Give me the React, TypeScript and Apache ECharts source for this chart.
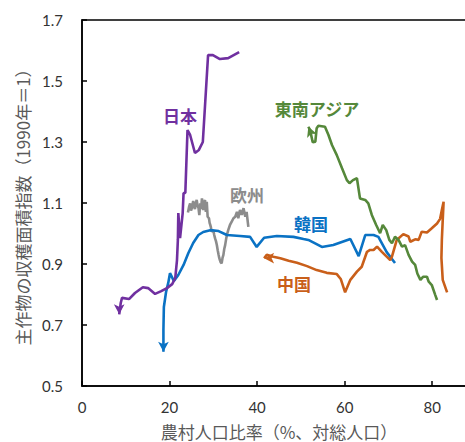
import React, { useEffect, useRef } from "react";
import * as echarts from "echarts";

const xTicks = [0, 20, 40, 60, 80];
const yTicks = [0.5, 0.7, 0.9, 1.1, 1.3, 1.5, 1.7];

const japan: number[][] = [
  [8.5, 0.735], [8.85, 0.772], [9.14, 0.789], [10.74, 0.785], [12.1, 0.805], [13.9, 0.824],
  [15.1, 0.821], [16.7, 0.802], [18.1, 0.811], [19.4, 0.821], [20.6, 0.834], [21.3, 0.854],
  [21.7, 0.913], [21.9, 0.979], [22.0, 1.067], [22.4, 0.985], [23.0, 1.067], [23.2, 1.133],
  [23.6, 1.133], [24.1, 1.339], [24.7, 1.323], [25.8, 1.264], [26.7, 1.274], [27.6, 1.3],
  [28.8, 1.585], [29.9, 1.585], [31.5, 1.572], [33.4, 1.575], [35.9, 1.595],
];

const europe: number[][] = [
  [24.2, 1.069], [24.5, 1.09], [24.7, 1.099], [24.9, 1.075], [25.1, 1.083], [25.4, 1.107],
  [25.6, 1.09], [25.8, 1.08], [26.0, 1.1], [26.2, 1.11], [26.4, 1.09], [26.6, 1.085],
  [26.8, 1.06], [27.0, 1.099], [27.2, 1.08], [27.4, 1.115], [27.55, 1.09], [27.7, 1.077],
  [27.9, 1.1], [28.1, 1.11], [28.2, 1.085], [28.3, 1.071], [28.5, 1.104], [28.7, 1.055],
  [29.0, 1.05], [29.15, 1.035], [29.3, 1.028], [29.45, 1.02], [29.6, 1.006], [30.0, 1.011],
  [30.2, 0.995], [30.4, 0.984], [30.6, 0.975], [30.8, 0.962], [31.0, 0.945], [31.2, 0.93],
  [31.35, 0.92], [31.5, 0.913], [31.7, 0.905], [31.9, 0.902], [32.1, 0.92], [32.3, 0.93],
  [32.5, 0.95], [32.7, 0.962], [32.9, 0.98], [33.1, 0.995], [33.4, 1.011], [33.8, 1.028],
  [34.2, 1.039], [34.6, 1.05], [35.0, 1.055], [35.4, 1.071], [35.7, 1.05], [36.1, 1.077],
  [36.5, 1.061], [36.9, 1.083], [37.3, 1.055], [37.6, 1.071], [38.0, 1.022],
];

const korea: number[][] = [
  [18.6, 0.612], [18.6, 0.684], [18.7, 0.759], [19.2, 0.808], [19.7, 0.838], [20.1, 0.87],
  [21.0, 0.844], [22.0, 0.864], [23.2, 0.897], [24.3, 0.936], [25.4, 0.969], [26.6, 0.995],
  [27.7, 1.005], [29.3, 1.011], [31.2, 1.008], [33.1, 0.995], [36.1, 0.992], [38.4, 0.989],
  [39.9, 0.956], [41.6, 0.986], [44.5, 0.992], [48.3, 0.989], [50.6, 0.982], [51.7, 0.979],
  [54.8, 0.956], [57.4, 0.962], [61.3, 0.982], [63.2, 0.926], [64.7, 0.995], [66.6, 0.995],
  [67.7, 0.989], [69.6, 0.939], [71.5, 0.903],
];

const china: number[][] = [
  [41.6, 0.919], [42.2, 0.93], [43.7, 0.924], [45.3, 0.919], [47.2, 0.911], [49.1, 0.904],
  [51.4, 0.893], [53.6, 0.88], [55.9, 0.871], [58.2, 0.867], [59.1, 0.851], [60.1, 0.807],
  [61.3, 0.848], [62.8, 0.875], [63.9, 0.891], [65.1, 0.94], [65.8, 0.946], [66.6, 0.946],
  [67.4, 0.957], [68.5, 0.94], [69.6, 0.924], [70.4, 0.913], [70.8, 0.924], [71.9, 0.979],
  [73.4, 0.998], [74.6, 0.99], [75.0, 0.973], [76.1, 0.981], [76.9, 0.979], [77.6, 1.006],
  [78.8, 1.003], [79.9, 1.017], [81.1, 1.033], [81.8, 1.048], [82.2, 1.077], [82.6, 1.104],
  [82.4, 1.044], [82.2, 0.979], [82.1, 0.92], [82.4, 0.848], [83.4, 0.807],
];

const seAsia: number[][] = [
  [51.7, 1.35], [52.1, 1.339], [52.7, 1.299], [53.3, 1.301], [53.6, 1.345], [54.0, 1.353],
  [55.5, 1.35], [56.3, 1.323], [57.1, 1.29], [58.2, 1.257], [59.4, 1.214], [60.5, 1.175],
  [61.1, 1.165], [61.9, 1.175], [62.8, 1.181], [63.5, 1.115], [64.7, 1.11], [65.4, 1.099],
  [66.2, 1.061], [67.2, 1.028], [68.1, 1.001], [68.7, 1.028], [69.5, 1.011], [70.2, 0.979],
  [70.8, 0.968], [71.5, 0.989], [72.3, 0.979], [73.1, 0.957], [73.8, 0.962], [74.6, 0.93],
  [75.4, 0.908], [76.1, 0.897], [76.6, 0.869], [77.3, 0.848], [77.9, 0.858], [78.8, 0.858],
  [79.2, 0.842], [79.9, 0.831], [80.7, 0.798], [81.1, 0.782],
];

const COLORS = {
  japan: "#7030A0",
  europe: "#8C8C8C",
  korea: "#0A72C4",
  china: "#C95F1A",
  seAsia: "#55883A",
};

function withArrow(points: number[][], rotate: number) {
  return points.map((p, i) =>
    i === 0
      ? { value: p, symbol: "arrow", symbolSize: [8, 10], symbolRotate: rotate }
      : { value: p }
  );
}

function lineSeries(name: string, points: number[][], color: string, rotate: number | null) {
  return {
    name,
    type: "line",
    data: rotate === null ? points : withArrow(points, rotate),
    symbol: "none",
    showSymbol: true,
    lineStyle: { color, width: 2.6 },
    itemStyle: { color },
    z: 3,
  };
}

const labelFont = "'Noto Sans CJK JP', 'Noto Sans', sans-serif";

export default function App() {
  const ref = useRef<HTMLDivElement>(null);
  useEffect(() => {
    if (!ref.current) return;
    const chart = echarts.init(ref.current, undefined, { renderer: "svg" });
    const lbl = (text: string, x: number, y: number, color: string) => ({
      type: "text",
      x,
      y,
      style: {
        text,
        fill: color,
        font: `bold 17px ${labelFont}`,
        textAlign: "center",
        textVerticalAlign: "middle",
      },
      z: 10,
    });
    chart.setOption({
      animation: false,
      backgroundColor: "#ffffff",
      grid: {
        left: 82,
        top: 20,
        width: 394,
        height: 366,
        show: true,
        borderColor: "#000",
        borderWidth: 1.5,
        containLabel: false,
        outerBoundsMode: "none",
      },
      xAxis: {
        type: "value",
        min: 0,
        max: 90,
        name: "農村人口比率（%、対総人口）",
        nameLocation: "middle",
        nameGap: 35,
        nameTextStyle: { fontFamily: labelFont, fontSize: 17, color: "#595959", lineHeight: 20 },
        axisLine: { show: true, lineStyle: { color: "#000", width: 1.5 } },
        axisTick: { show: true, inside: true, length: 5, lineStyle: { color: "#000", width: 1.5 }, customValues: xTicks },
        axisLabel: {
          customValues: xTicks,
          margin: 13,
          fontFamily: "Lato, 'Noto Sans', sans-serif",
          fontSize: 15,
          color: "#333",
        },
        splitLine: { show: false },
      },
      yAxis: {
        type: "value",
        min: 0.5,
        max: 1.7,
        name: "主作物の収穫面積指数（1990年＝1）",
        nameLocation: "middle",
        nameGap: 50,
        nameRotate: 90,
        nameTextStyle: { fontFamily: labelFont, fontSize: 17, color: "#595959" },
        axisLine: { show: true, lineStyle: { color: "#000", width: 1.5 } },
        axisTick: { show: true, inside: true, length: 5, lineStyle: { color: "#000", width: 1.5 }, customValues: yTicks },
        axisLabel: {
          customValues: yTicks,
          margin: 19,
          formatter: (v: number) => v.toFixed(1),
          fontFamily: "Lato, 'Noto Sans', sans-serif",
          fontSize: 15,
          color: "#333",
        },
        splitLine: { show: false },
      },
      series: [
        lineSeries("欧州", europe, COLORS.europe, null),
        lineSeries("韓国", korea, COLORS.korea, 180),
        lineSeries("日本", japan, COLORS.japan, 180),
        lineSeries("中国", china, COLORS.china, 90),
        lineSeries("東南アジア", seAsia, COLORS.seAsia, 22),
      ],
      graphic: [
        lbl("日本", 180, 115, COLORS.japan),
        lbl("東南アジア", 317, 108, COLORS.seAsia),
        lbl("欧州", 247, 194, COLORS.europe),
        lbl("韓国", 311, 223, COLORS.korea),
        lbl("中国", 294, 283, COLORS.china),
      ],
    });
    return () => chart.dispose();
  }, []);
  return (
    <div
      ref={ref}
      style={{ position: "absolute", left: 0, top: 0, width: 465, height: 442 }}
    />
  );
}
